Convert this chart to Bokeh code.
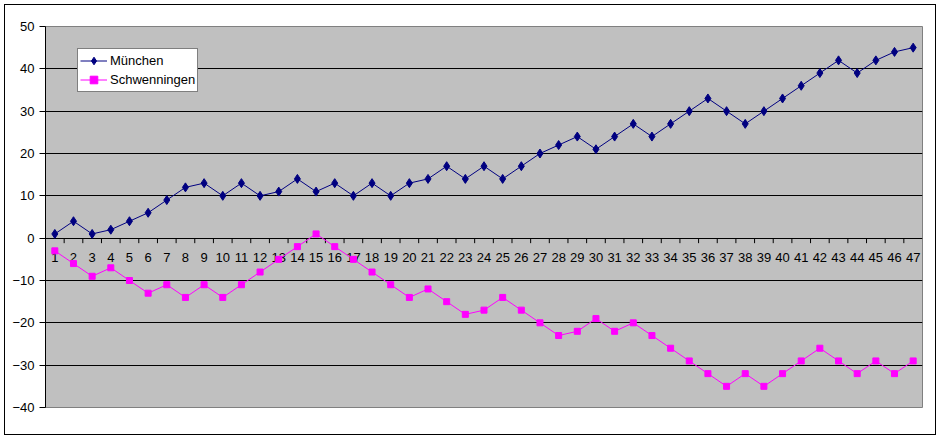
from bokeh.plotting import figure
from bokeh.models import Legend, LegendItem, FixedTicker
from bokeh.core.properties import value
from bokeh.embed import file_html
from bokeh.resources import INLINE

categories = [str(i) for i in range(1, 48)]
muenchen = [1, 4, 1, 2, 4, 6, 9, 12, 13, 10, 13, 10, 11, 14, 11, 13, 10, 13, 10, 13,
            14, 17, 14, 17, 14, 17, 20, 22, 24, 21, 24, 27, 24, 27, 30, 33, 30, 27, 30, 33,
            36, 39, 42, 39, 42, 44, 45]
schwenningen = [-3, -6, -9, -7, -10, -13, -11, -14, -11, -14, -11, -8, -5, -2, 1, -2, -5, -8, -11, -14,
                -12, -15, -18, -17, -14, -17, -20, -23, -22, -19, -22, -20, -23, -26, -29, -32, -35, -32, -35, -32,
                -29, -26, -29, -32, -29, -32, -29]
y_ticks = [-40, -30, -20, -10, 0, 10, 20, 30, 40, 50]

xs = list(range(1, len(categories) + 1))
FONT = "Liberation Sans"

p = figure(width=930, height=429, output_backend="svg", toolbar_location=None,
           x_range=(0.5, len(categories) + 0.5), y_range=(-40, 50),
           min_border_left=40, min_border_right=13, min_border_top=21, min_border_bottom=27)
p.styles = {"margin": "5px", "outline": "1px solid black", "outline-offset": "0px"}
p.background_fill_color = "#C0C0C0"
p.border_fill_color = "white"
p.outline_line_color = "#808080"
p.outline_line_width = 1

p.xaxis.visible = False
p.xgrid.visible = False
p.ygrid.grid_line_color = "black"
p.ygrid.grid_line_width = 1
p.ygrid.ticker = FixedTicker(ticks=y_ticks)

ya = p.yaxis[0]
ya.ticker = FixedTicker(ticks=y_ticks)
ya.axis_line_color = "black"
ya.major_tick_line_color = "black"
ya.major_tick_out = 6
ya.major_tick_in = 0
ya.minor_tick_line_color = None
ya.major_label_text_font = FONT
ya.major_label_text_font_size = "13px"
ya.major_label_text_color = "black"
ya.major_label_standoff = 5

# category axis drawn along y = 0
p.ray(x=[x + 0.5 for x in xs[:-1]], y=[0] * (len(xs) - 1), length=5, length_units="screen",
      angle=-1.5707963, line_color="black", line_width=1)
p.text(x=xs, y=[0] * len(xs), text=categories, text_font=value(FONT), text_font_size="13px",
       text_color="black", text_align="center", text_baseline="middle", y_offset=19)

r1l = p.line(xs, muenchen, line_color="#000080", line_width=1)
r1m = p.scatter(xs, muenchen, marker="diamond", size=9, fill_color="#000080", line_color="#000080")
r2l = p.line(xs, schwenningen, line_color="#FF00FF", line_width=1)
r2m = p.scatter(xs, schwenningen, marker="square", size=6, fill_color="#FF00FF", line_color="#FF00FF")

legend = Legend(items=[LegendItem(label="München", renderers=[r1l, r1m]),
                       LegendItem(label="Schwenningen", renderers=[r2l, r2m])],
                location=(32, 315), orientation="vertical")
legend.margin = 0
legend.padding = 2
legend.spacing = 0
legend.glyph_width = 27
legend.glyph_height = 19
legend.label_height = 19
legend.label_standoff = 3
legend.label_text_font = FONT
legend.label_text_font_size = "13px"
legend.label_text_color = "black"
legend.border_line_color = "black"
legend.border_line_width = 1
legend.background_fill_color = "white"
legend.background_fill_alpha = 1
p.add_layout(legend, "center")

open("out.html", "w").write(file_html(p, INLINE))
